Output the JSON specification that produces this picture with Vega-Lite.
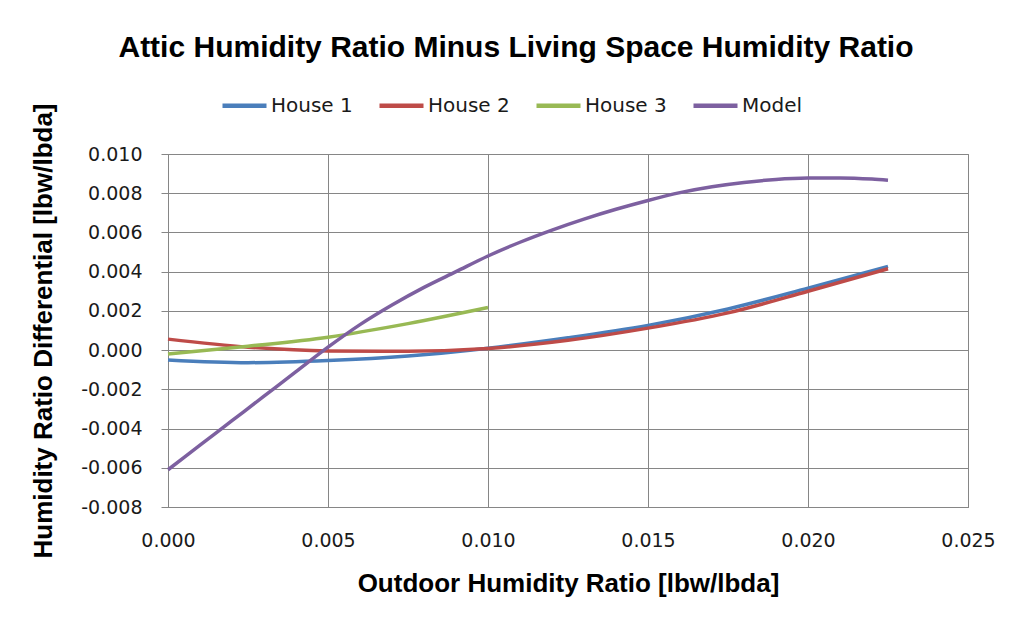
{
  "$schema": "https://vega.github.io/schema/vega-lite/v6.json",
  "width": 800,
  "height": 353,
  "autosize": {"type": "none"},
  "padding": {"left": 168, "top": 154, "right": 45, "bottom": 115},
  "background": "white",
  "title": {
    "text": "Attic Humidity Ratio Minus Living Space Humidity Ratio",
    "font": "Liberation Sans",
    "fontSize": 30,
    "fontWeight": "bold",
    "color": "#000000",
    "anchor": "middle",
    "dx": -52,
    "offset": 18
  },
  "data": {
    "values": [
      {"x": 0.0, "y": -0.0005, "s": "House 1"},
      {"x": 0.0025, "y": -0.00064, "s": "House 1"},
      {"x": 0.005, "y": -0.00053, "s": "House 1"},
      {"x": 0.0075, "y": -0.0003, "s": "House 1"},
      {"x": 0.01, "y": 0.0001, "s": "House 1"},
      {"x": 0.0125, "y": 0.00063, "s": "House 1"},
      {"x": 0.015, "y": 0.00126, "s": "House 1"},
      {"x": 0.0175, "y": 0.0021, "s": "House 1"},
      {"x": 0.02, "y": 0.00316, "s": "House 1"},
      {"x": 0.0225, "y": 0.00427, "s": "House 1"},
      {"x": 0.0, "y": 0.00056, "s": "House 2"},
      {"x": 0.0025, "y": 0.00015, "s": "House 2"},
      {"x": 0.005, "y": -0.00004, "s": "House 2"},
      {"x": 0.0075, "y": -0.00006, "s": "House 2"},
      {"x": 0.01, "y": 0.00008, "s": "House 2"},
      {"x": 0.0125, "y": 0.0005, "s": "House 2"},
      {"x": 0.015, "y": 0.00112, "s": "House 2"},
      {"x": 0.0175, "y": 0.0019, "s": "House 2"},
      {"x": 0.02, "y": 0.003, "s": "House 2"},
      {"x": 0.0225, "y": 0.00415, "s": "House 2"},
      {"x": 0.0, "y": -0.0002, "s": "House 3"},
      {"x": 0.0025, "y": 0.0002, "s": "House 3"},
      {"x": 0.005, "y": 0.00066, "s": "House 3"},
      {"x": 0.0075, "y": 0.00135, "s": "House 3"},
      {"x": 0.01, "y": 0.00217, "s": "House 3"},
      {"x": 0.0, "y": -0.0061, "s": "Model"},
      {"x": 0.001, "y": -0.00485, "s": "Model"},
      {"x": 0.002, "y": -0.0036, "s": "Model"},
      {"x": 0.003, "y": -0.00235, "s": "Model"},
      {"x": 0.004, "y": -0.0011, "s": "Model"},
      {"x": 0.005, "y": 0.00015, "s": "Model"},
      {"x": 0.006, "y": 0.0013, "s": "Model"},
      {"x": 0.007, "y": 0.0023, "s": "Model"},
      {"x": 0.008, "y": 0.0032, "s": "Model"},
      {"x": 0.009, "y": 0.004, "s": "Model"},
      {"x": 0.01, "y": 0.0048, "s": "Model"},
      {"x": 0.011, "y": 0.0055, "s": "Model"},
      {"x": 0.012, "y": 0.00612, "s": "Model"},
      {"x": 0.013, "y": 0.00668, "s": "Model"},
      {"x": 0.014, "y": 0.00718, "s": "Model"},
      {"x": 0.015, "y": 0.00763, "s": "Model"},
      {"x": 0.016, "y": 0.00803, "s": "Model"},
      {"x": 0.017, "y": 0.00833, "s": "Model"},
      {"x": 0.018, "y": 0.00855, "s": "Model"},
      {"x": 0.019, "y": 0.0087, "s": "Model"},
      {"x": 0.02, "y": 0.00877, "s": "Model"},
      {"x": 0.021, "y": 0.00878, "s": "Model"},
      {"x": 0.022, "y": 0.00872, "s": "Model"},
      {"x": 0.0225, "y": 0.00866, "s": "Model"}
    ]
  },
  "mark": {"type": "line", "interpolate": "monotone", "strokeWidth": 3.5},
  "encoding": {
    "x": {
      "field": "x",
      "type": "quantitative",
      "scale": {"domain": [0, 0.025], "nice": false, "zero": false},
      "axis": {
        "title": "Outdoor Humidity Ratio [lbw/lbda]",
        "values": [0, 0.005, 0.01, 0.015, 0.02, 0.025],
        "format": ".3f",
        "ticks": false,
        "labelFlush": false,
        "labelPadding": 24,
        "titlePadding": 20
      }
    },
    "y": {
      "field": "y",
      "type": "quantitative",
      "scale": {"domain": [-0.008, 0.01], "nice": false, "zero": false},
      "axis": {
        "title": "Humidity Ratio Differential [lbw/lbda]",
        "values": [-0.008, -0.006, -0.004, -0.002, 0, 0.002, 0.004, 0.006, 0.008, 0.01],
        "labelExpr": "datum.value < 0 ? '-' + format(-datum.value, '.3f') : format(datum.value, '.3f')",
        "ticks": true,
        "tickSize": 7,
        "labelFlush": false,
        "labelPadding": 19,
        "titlePadding": 24
      }
    },
    "color": {
      "field": "s",
      "type": "nominal",
      "scale": {
        "domain": ["House 1", "House 2", "House 3", "Model"],
        "range": ["#4A7EBB", "#BE4B48", "#98B954", "#7D60A0"]
      },
      "legend": {
        "title": null,
        "orient": "none",
        "direction": "horizontal",
        "legendX": 52,
        "legendY": -73,
        "symbolType": "stroke",
        "symbolSize": 1936,
        "symbolStrokeWidth": 4.5,
        "labelOffset": 2,
        "columnPadding": 17,
        "labelFont": "DejaVu Sans",
        "labelFontSize": 20,
        "labelColor": "#1a1a1a",
        "padding": 0
      }
    }
  },
  "config": {
    "view": {"stroke": "#868686", "strokeWidth": 1},
    "axis": {
      "labelFont": "DejaVu Sans",
      "labelFontSize": 19,
      "labelColor": "#1a1a1a",
      "titleFont": "Liberation Sans",
      "titleFontSize": 26,
      "titleFontWeight": "bold",
      "titleColor": "#000000",
      "gridColor": "#868686",
      "gridWidth": 1,
      "gridOpacity": 1,
      "domainColor": "#868686",
      "domainWidth": 1,
      "tickColor": "#868686",
      "tickWidth": 1
    }
  }
}
